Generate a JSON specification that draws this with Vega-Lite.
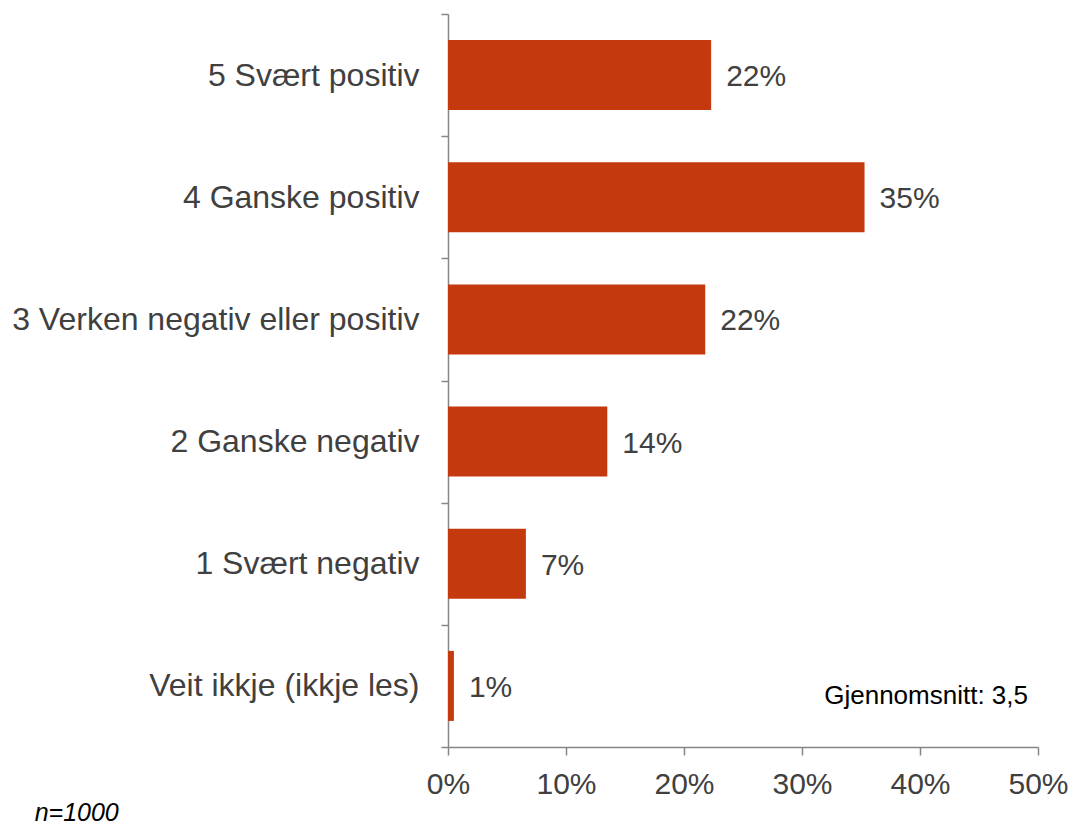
{
  "$schema": "https://vega.github.io/schema/vega-lite/v6.json",
  "width": 590,
  "height": 733,
  "autosize": {"type": "none"},
  "padding": {"left": 448, "top": 14, "right": 34, "bottom": 80},
  "background": "white",
  "config": {
    "view": {"stroke": null},
    "font": "Liberation Sans",
    "text": {"font": "Liberation Sans"}
  },
  "title": {
    "text": "n=1000",
    "orient": "bottom",
    "anchor": "start",
    "frame": "bounds",
    "font": "Liberation Sans",
    "fontStyle": "italic",
    "fontWeight": "normal",
    "fontSize": 25,
    "color": "#000000",
    "offset": 2,
    "dx": 23
  },
  "data": {
    "values": [
      {"kategori": "5 Svært positiv", "andel": 0.223, "etikett": "22%"},
      {"kategori": "4 Ganske positiv", "andel": 0.353, "etikett": "35%"},
      {"kategori": "3 Verken negativ eller positiv", "andel": 0.218, "etikett": "22%"},
      {"kategori": "2 Ganske negativ", "andel": 0.135, "etikett": "14%"},
      {"kategori": "1 Svært negativ", "andel": 0.066, "etikett": "7%"},
      {"kategori": "Veit ikkje (ikkje les)", "andel": 0.005, "etikett": "1%"}
    ]
  },
  "encoding": {
    "y": {
      "field": "kategori",
      "type": "nominal",
      "sort": null,
      "scale": {"paddingInner": 0, "paddingOuter": 0},
      "axis": {
        "title": null,
        "domainColor": "#868686",
        "domainWidth": 1.5,
        "tickColor": "#868686",
        "tickWidth": 1.5,
        "tickSize": 7,
        "tickBand": "extent",
        "labelFontSize": 32,
        "labelColor": "#404040",
        "labelPadding": 22,
        "labelFont": "Liberation Sans",
        "labelLimit": 500
      }
    }
  },
  "layer": [
    {
      "mark": {"type": "bar", "color": "#C4390E", "height": {"band": 0.573}},
      "encoding": {
        "x": {
          "field": "andel",
          "type": "quantitative",
          "scale": {"domain": [0, 0.5], "nice": false},
          "axis": {
            "title": null,
            "format": ".0%",
            "values": [0, 0.1, 0.2, 0.3, 0.4, 0.5],
            "grid": false,
            "domainColor": "#868686",
            "domainWidth": 1.5,
            "tickColor": "#868686",
            "tickWidth": 1.5,
            "tickSize": 8,
            "labelFontSize": 30,
            "labelColor": "#404040",
            "labelPadding": 14,
            "labelFont": "Liberation Sans",
            "labelFlush": false,
            "labelOverlap": false
          }
        }
      }
    },
    {
      "mark": {"type": "text", "align": "left", "baseline": "middle", "dx": 15, "dy": 2, "fontSize": 30, "color": "#404040", "font": "Liberation Sans"},
      "encoding": {
        "x": {"field": "andel", "type": "quantitative"},
        "text": {"field": "etikett"}
      }
    },
    {
      "data": {"values": [{"tekst": "Gjennomsnitt: 3,5", "x": 0.5, "kategori": "Veit ikkje (ikkje les)"}]},
      "mark": {"type": "text", "align": "right", "baseline": "middle", "dx": -10, "dy": 10, "fontSize": 26, "color": "#000000", "font": "Liberation Sans"},
      "encoding": {
        "x": {"field": "x", "type": "quantitative"},
        "y": {"field": "kategori", "type": "nominal", "sort": null},
        "text": {"field": "tekst"}
      }
    }
  ]
}
